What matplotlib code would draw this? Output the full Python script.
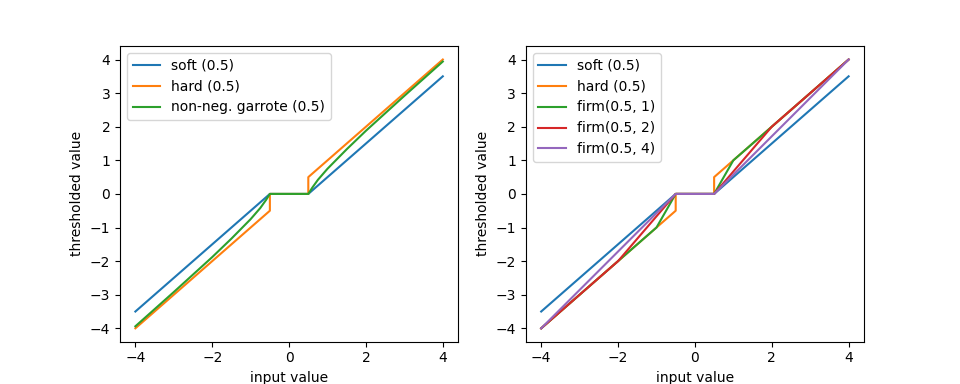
import matplotlib
matplotlib.use("Agg")
import matplotlib.pyplot as plt

# breakpoints (threshold 0.5)
soft_x = [-4, -0.5, 0.5, 4]
soft_y = [-3.5, 0, 0, 3.5]

hard_x = [-4, -0.5, -0.5, 0.5, 0.5, 4]
hard_y = [-4, -0.5, 0, 0, 0.5, 4]

garrote_x = [-4, -3, -2, -1.5, -1, -0.75, -0.6, -0.5, 0.5, 0.6, 0.75, 1, 1.5, 2, 3, 4]
garrote_y = [-3.94, -2.92, -1.88, -1.33, -0.75, -0.42, -0.18, 0, 0, 0.18, 0.42, 0.75, 1.33, 1.88, 2.92, 3.94]

firm1_x = [-4, -1, -0.5, 0.5, 1, 4]
firm1_y = [-4, -1, 0, 0, 1, 4]

firm2_x = [-4, -2, -0.5, 0.5, 2, 4]
firm2_y = [-4, -2, 0, 0, 2, 4]

firm4_x = [-4, -0.5, 0.5, 4]
firm4_y = [-4, 0, 0, 4]

fig, (ax1, ax2) = plt.subplots(1, 2, figsize=(9.6, 3.84), dpi=100)

ax1.plot(soft_x, soft_y, label='soft (0.5)')
ax1.plot(hard_x, hard_y, label='hard (0.5)')
ax1.plot(garrote_x, garrote_y, label='non-neg. garrote (0.5)')
ax1.legend(loc='upper left')
ax1.set_xlabel('input value')
ax1.set_ylabel('thresholded value')

ax2.plot(soft_x, soft_y, label='soft (0.5)')
ax2.plot(hard_x, hard_y, label='hard (0.5)')
ax2.plot(firm1_x, firm1_y, label='firm(0.5, 1)')
ax2.plot(firm2_x, firm2_y, label='firm(0.5, 2)')
ax2.plot(firm4_x, firm4_y, label='firm(0.5, 4)')
ax2.legend(loc='upper left')
ax2.set_xlabel('input value')
ax2.set_ylabel('thresholded value')

fig.savefig('out.png')
